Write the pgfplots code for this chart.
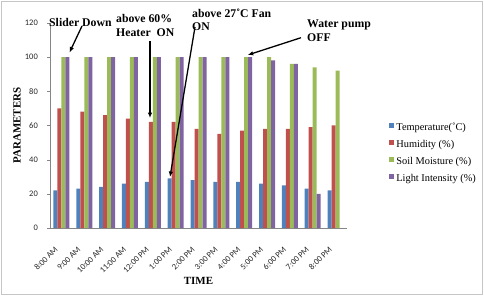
\documentclass[border=0pt]{standalone}
\usepackage{fontspec}
\setmainfont{Liberation Serif}
\newfontfamily\tickfont{Carlito}
\usepackage{pgfplots}
\usepackage{pgfplotstable}
\pgfplotsset{compat=1.18}
\usetikzlibrary{arrows.meta}
\definecolor{cT}{HTML}{4F81BD}
\definecolor{cH}{HTML}{C0504D}
\definecolor{cS}{HTML}{9BBB59}
\definecolor{cL}{HTML}{8064A2}
\definecolor{axgray}{HTML}{868686}
\pgfplotstableread{
x T H S L
0 22 70 100 100
1 23 68 100 100
2 24 66 100 100
3 26 64 100 100
4 27 62 100 100
5 29 62 100 100
6 28 58 100 100
7 27 55 100 100
8 27 57 100 100
9 26 58 100 98
10 25 58 96 96
11 23 59 94 20
12 22 60 92 0
}\data
\pgfplotsset{sqlegend/.style={legend image code/.code={\fill[##1] (0bp,0bp) rectangle (4.4bp,4.4bp);}}}
\begin{document}
\begin{tikzpicture}[x=1bp,y=1bp]
\useasboundingbox (0,0) rectangle (484,296);
\draw[gray!45, line width=1bp] (1.5,2) rectangle (482.5,294);
\begin{axis}[
  at={(50bp,68bp)}, anchor=south west,
  scale only axis, width=297bp, height=205.2bp,
  xmin=-0.5, xmax=12.5, ymin=0, ymax=120,
  ybar=0pt, bar width=4bp,
  axis x line*=bottom, axis y line*=left,
  axis line style={draw=axgray, line width=0.8bp},
  xtick={0,...,12},
  xticklabels={8:00 AM,9:00 AM,10:00 AM,11:00 AM,12:00 PM,1:00 PM,2:00 PM,3:00 PM,4:00 PM,5:00 PM,6:00 PM,7:00 PM,8:00 PM},
  ytick={0,20,...,120},
  tick align=outside, major tick length=3bp,
  x tick style={draw=none},
  y tick style={draw=axgray},
  /pgf/number format/assume math mode=true,
  yticklabel style={font=\tickfont\fontsize{8.5}{10}\selectfont, text=black!85, inner sep=0pt, xshift=-9bp},
  xticklabel style={xshift=-5bp, yshift=-17bp, rotate=45, anchor=east, inner sep=0pt, font=\tickfont\fontsize{8.5}{9}\selectfont, text=black!85},
  xlabel={TIME}, ylabel={PARAMETERS},
  xlabel style={font=\bfseries\fontsize{11}{12}\selectfont, at={(axis description cs:0.5,-0.258)}, anchor=center},
  ylabel style={font=\bfseries\fontsize{11}{12}\selectfont, at={(axis description cs:-0.111,0.5)}, anchor=center},
  legend style={draw=none, fill=none, anchor=north west, at={(1.1414,0.516)},
    font=\fontsize{10.4}{11}\selectfont, row sep=6.2bp, inner sep=0pt,
    nodes={inner sep=0.8bp, text height=7bp, text depth=2.2bp},
    /tikz/every odd column/.append style={column sep=2bp}},
  legend cell align=left,
]
\addplot[fill=cT, draw=none, sqlegend] table[x=x,y=T]{\data};
\addplot[fill=cH, draw=none, sqlegend] table[x=x,y=H]{\data};
\addplot[fill=cS, draw=none, sqlegend] table[x=x,y=S]{\data};
\addplot[fill=cL, draw=none, sqlegend] table[x=x,y=L]{\data};
\legend{Temperature(˚C),Humidity (\%),Soil Moisture (\%),Light Intensity (\%)}
\end{axis}
\begin{scope}[font=\bfseries\fontsize{11.8}{13}\selectfont]
\node[anchor=base west, inner sep=0] at (49,269.5) {Slider Down};
\node[anchor=base west, inner sep=0] at (116,273.5) {above 60\%};
\node[anchor=base west, inner sep=0] at (116,260) {Heater~~ON};
\node[anchor=base west, inner sep=0] at (192,278.5) {above 27˚C Fan};
\node[anchor=base west, inner sep=0] at (192,266) {ON};
\node[anchor=base west, inner sep=0] at (307,268.3) {Water pump};
\node[anchor=base west, inner sep=0] at (307,254.3) {OFF};
\end{scope}
\begin{scope}[line width=1.3bp, -{Latex[length=5.5bp,width=4.5bp]}]
\draw (82,270) -- (69.5,243.5);
\draw (150,255) -- (150,178);
\draw (195,269) -- (170,119);
\draw (301,258.3) -- (247.7,241);
\end{scope}
\end{tikzpicture}
\end{document}
